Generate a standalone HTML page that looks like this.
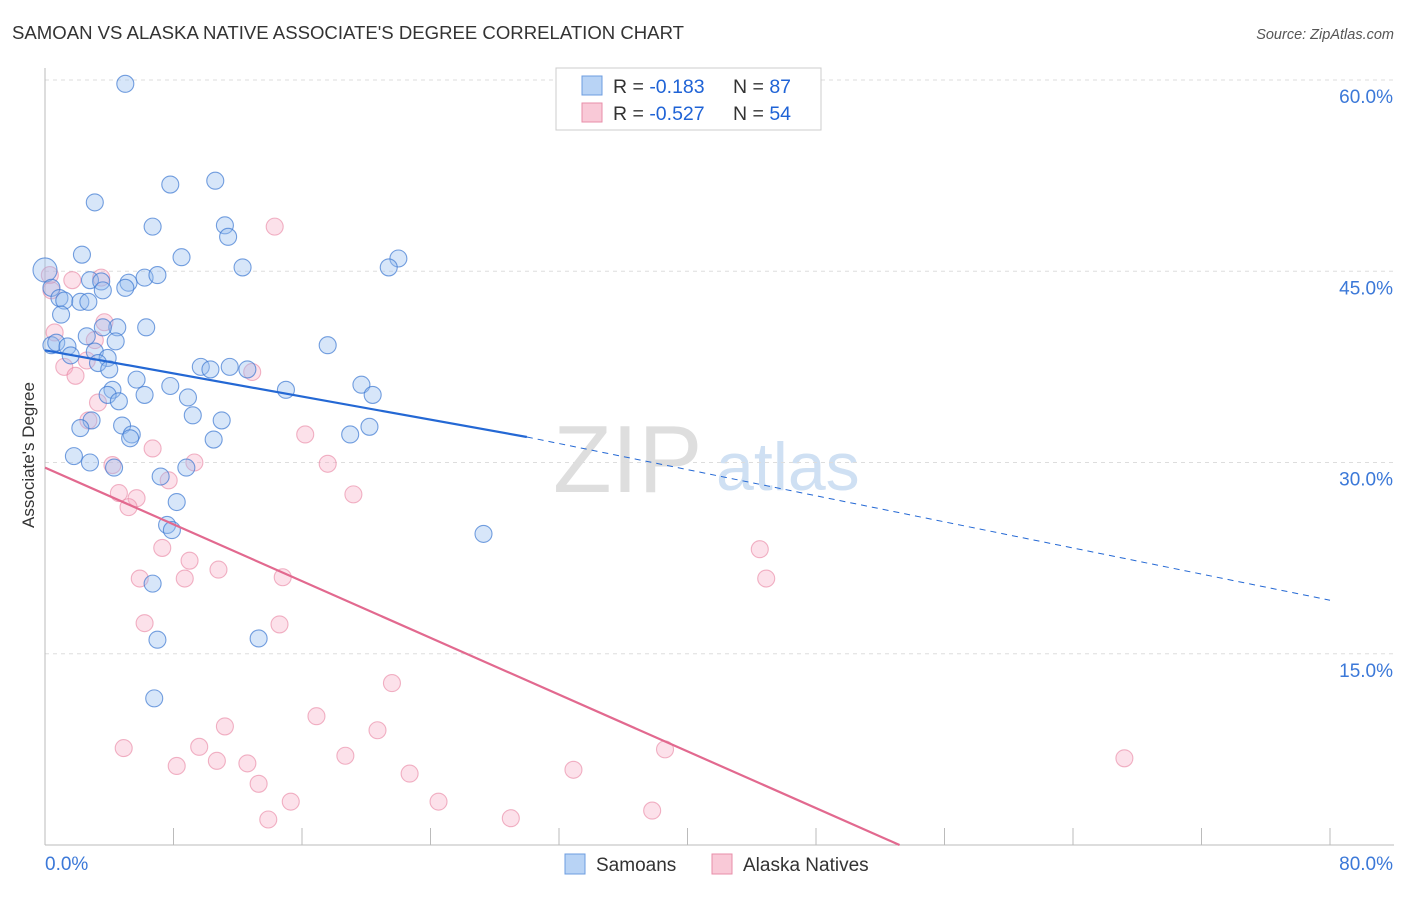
<!DOCTYPE html>
<html><head><meta charset="utf-8"><style>
body{margin:0;background:#fff;font-family:"Liberation Sans",sans-serif}
svg text{font-family:"Liberation Sans",sans-serif}
</style></head><body>
<svg id="chart" width="1406" height="892" xmlns="http://www.w3.org/2000/svg">
<text x="12" y="39" font-size="18" fill="#333" textLength="672" lengthAdjust="spacingAndGlyphs">SAMOAN VS ALASKA NATIVE ASSOCIATE'S DEGREE CORRELATION CHART</text>
<text x="1394" y="39" font-size="14.5" fill="#555" font-style="italic" text-anchor="end">Source: ZipAtlas.com</text>
<text x="553" y="492" font-size="96" fill="#dedede" font-family="Liberation Serif">ZIP</text>
<text x="716" y="490" font-size="68" fill="#cfe0f3">atlas</text>
<text x="34" y="455" font-size="17" fill="#333" transform="rotate(-90 34 455)" text-anchor="middle">Associate's Degree</text>
<g id="grid"></g><g id="axes"></g><g id="pts"></g><g id="trends"></g>
<g>
<rect x="556" y="68" width="265" height="62" fill="#fff" stroke="#ccc"/>
<rect x="582" y="76" width="20" height="19" fill="#b8d3f5" stroke="#6c9de0"/>
<rect x="582" y="103" width="20" height="19" fill="#f9c9d7" stroke="#e88ea9"/>
<text x="613" y="93" font-size="19.5" fill="#333">R = <tspan fill="#1f63d6">-0.183</tspan></text>
<text x="733" y="93" font-size="19.5" fill="#333">N = <tspan fill="#1f63d6">87</tspan></text>
<text x="613" y="120" font-size="19.5" fill="#333">R = <tspan fill="#1f63d6">-0.527</tspan></text>
<text x="733" y="120" font-size="19.5" fill="#333">N = <tspan fill="#1f63d6">54</tspan></text>
</g>
<g>
<rect x="565" y="854" width="20" height="20" fill="#b8d3f5" stroke="#6c9de0"/>
<text x="596" y="871" font-size="19" fill="#333">Samoans</text>
<rect x="712" y="854" width="20" height="20" fill="#f9c9d7" stroke="#e88ea9"/>
<text x="743" y="871" font-size="19" fill="#333">Alaska Natives</text>
</g>
</svg>
<script>
const blueX=[5.0,7.8,10.6,3.1,6.7,11.2,11.4,2.3,8.5,22.0,21.4,12.3,0,5.2,6.2,7.0,2.8,3.5,5.0,3.6,0.4,0.9,1.2,2.2,2.7,1.0,4.5,6.3,3.6,2.6,4.4,17.6,0.4,0.7,1.4,1.6,3.1,3.9,3.3,4.0,9.7,10.3,11.5,12.6,5.7,7.8,4.2,15.0,19.7,20.4,3.9,6.2,8.9,4.6,9.2,11.0,2.9,2.2,4.8,20.2,19.0,5.4,5.3,10.5,1.8,2.8,8.8,4.3,7.2,8.2,7.6,7.9,27.3,6.7,7.0,13.3,6.8];
const blueY=[59.7,51.8,52.1,50.4,48.5,48.6,47.7,46.3,46.1,46.0,45.3,45.3,45.1,44.1,44.5,44.7,44.3,44.2,43.7,43.5,43.7,42.9,42.7,42.6,42.6,41.6,40.6,40.6,40.6,39.9,39.5,39.2,39.2,39.4,39.1,38.4,38.7,38.2,37.8,37.3,37.5,37.3,37.5,37.3,36.5,36.0,35.7,35.7,36.1,35.3,35.3,35.3,35.1,34.8,33.7,33.3,33.3,32.7,32.9,32.8,32.2,32.2,31.9,31.8,30.5,30.0,29.6,29.6,28.9,26.9,25.1,24.7,24.4,20.5,16.1,16.2,11.5];
const pinkX=[14.3,0.3,1.7,3.5,0.4,3.7,0.6,3.1,2.6,1.2,1.9,12.9,3.3,2.7,16.2,6.7,9.3,4.2,17.6,7.7,19.2,4.6,5.7,5.2,7.3,9.0,44.5,10.8,5.9,8.7,14.8,44.9,6.2,14.6,21.6,11.2,16.9,20.7,4.9,9.6,38.6,18.7,67.2,10.7,12.6,8.2,22.7,32.9,13.3,15.3,24.5,37.8,29.0,13.9];
const pinkY=[48.5,44.7,44.3,44.5,43.5,41.0,40.2,39.6,38.0,37.5,36.8,37.1,34.7,33.3,32.2,31.1,30.0,29.8,29.9,28.6,27.5,27.6,27.2,26.5,23.3,22.3,23.2,21.6,20.9,20.9,21.0,20.9,17.4,17.3,12.7,9.3,10.1,9.0,7.6,7.7,7.5,7.0,6.8,6.6,6.4,6.2,5.6,5.9,4.8,3.4,3.4,2.7,2.1,2.0];
const blueTrend=[38.8,32.0,19.2]; // at x=0,30,80
const pinkTrend=[29.6,53.2]; // y at x=0, x where y=0
const yTicks=[15,30,45,60];
const xTickVals=[0,8,16,24,32,40,48,56,64,72,80];
const NS="http://www.w3.org/2000/svg";
const X=v=>45+v*1285/80, Y=v=>845-v*12.75;
function mk(t,a,p){const e=document.createElementNS(NS,t);for(const k in a)e.setAttribute(k,a[k]);document.getElementById(p).appendChild(e);return e;}
yTicks.forEach(t=>{
 const l=mk('line',{x1:45,x2:1394,y1:Y(t),y2:Y(t),stroke:'#ddd','stroke-dasharray':'4,4'},'grid');
 
 
 const tx=mk('text',{x:1393,y:Y(t)+23,'font-size':19,fill:'#3b78d8','text-anchor':'end'},'axes');
 tx.textContent=t.toFixed(1)+'%';
 
 
});
const ax=mk('line',{x1:45,x2:1394,y1:845,y2:845,stroke:'#bbb'},'axes');


const ay=mk('line',{x1:45,x2:45,y1:68,y2:845,stroke:'#bbb'},'axes');


xTickVals.forEach(t=>{
 const l=mk('line',{x1:X(t),x2:X(t),y1:828,y2:845,stroke:'#bbb'},'axes');
 
 
});
[[0,'start'],[80,'end']].forEach(([t,a])=>{
 const tx=mk('text',{x:t==0?45:1393,y:870,'font-size':19,fill:'#3b78d8','text-anchor':a},'axes');
 tx.textContent=t.toFixed(1)+'%';
 
 
});
pinkX.forEach((v,i)=>{
 const c=mk('circle',{cx:X(v),cy:Y(pinkY[i]),r:8.5,fill:'rgba(246,170,195,0.35)',stroke:'rgba(232,130,160,0.6)','stroke-width':1.1},'pts');
 
 
});
blueX.forEach((v,i)=>{
 const c=mk('circle',{cx:X(v),cy:Y(blueY[i]),r:i==12?12:8.5,fill:'rgba(150,190,240,0.38)',stroke:'rgba(60,120,210,0.7)','stroke-width':1.1},'pts');
 
 
});
const b1=mk('line',{x1:X(0),y1:Y(blueTrend[0]),x2:X(30),y2:Y(blueTrend[1]),stroke:'#2468d4','stroke-width':2.2},'trends');


const b2=mk('line',{x1:X(30),y1:Y(blueTrend[1]),x2:X(80),y2:Y(blueTrend[2]),stroke:'#2468d4','stroke-width':1,'stroke-dasharray':'6,5'},'trends');


const p1=mk('line',{x1:X(0),y1:Y(pinkTrend[0]),x2:X(pinkTrend[1]),y2:Y(0),stroke:'#e2698f','stroke-width':2.2},'trends');


</script>
</body></html>
